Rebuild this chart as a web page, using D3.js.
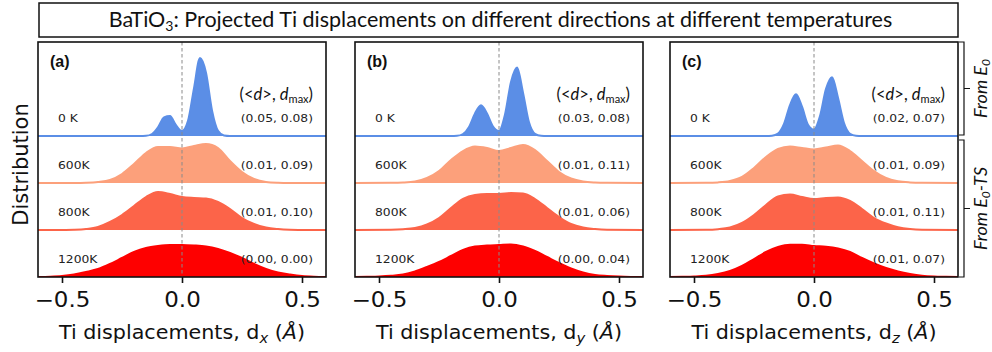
<!DOCTYPE html>
<html>
<head>
<meta charset="utf-8">
<script src="https://cdn.jsdelivr.net/npm/d3@7"></script>
<style>
  body { margin: 0; background: #fff; }
  svg { display: block; }
</style>
</head>
<body>
<svg id="chart" width="992" height="352"></svg>
<script>
// ---- data -------------------------------------------------------------
const panelLabels = ["(a)", "(b)", "(c)"];
const directions = ["x", "y", "z"];
const temperatures = ["0 K", "600K", "800K", "1200K"];
const xTicks = [-0.5, 0.0, 0.5];

// (<d>, d_max) per temperature, one array per direction
const statsX = [[0.05, 0.08], [0.01, 0.09], [0.01, 0.10], [0.00, 0.00]];
const statsY = [[0.03, 0.08], [0.01, 0.11], [0.01, 0.06], [0.00, 0.04]];
const statsZ = [[0.02, 0.07], [0.01, 0.09], [0.01, 0.11], [0.01, 0.07]];

// Projected displacement distributions: [displacement (Å), density (a.u.)]
const densX0 = [[-0.6,0],[-0.175,0],[-0.15,0.2],[-0.125,2.0],[-0.1,8.6],[-0.075,18.5],[-0.05,19.9],[-0.025,10.8],[0,5.0],[0.025,15.1],[0.05,47.9],[0.075,77.9],[0.1,63.3],[0.125,25.6],[0.15,5.2],[0.175,0.5],[0.2,0],[0.6,0]];
const densX600 = [[-0.6,0],[-0.45,0.1],[-0.4,0.3],[-0.35,1],[-0.3,3],[-0.25,9],[-0.2,19],[-0.15,30],[-0.1,36],[-0.05,36],[0,34.5],[0.05,37],[0.1,39],[0.15,35],[0.2,22],[0.25,11],[0.3,4],[0.35,1],[0.4,0.3],[0.45,0.1],[0.6,0]];
const densX800 = [[-0.6,0],[-0.5,0.1],[-0.45,0.3],[-0.4,1],[-0.35,3],[-0.3,8],[-0.25,15],[-0.2,24],[-0.15,33],[-0.1,38],[-0.05,36],[0,33],[0.05,32],[0.1,31.5],[0.15,28],[0.2,21],[0.25,12],[0.3,6],[0.35,2.5],[0.4,1],[0.45,0.3],[0.5,0.1],[0.6,0]];
const densX1200 = [[-0.6,0],[-0.55,0.3],[-0.5,1],[-0.45,2.5],[-0.4,5],[-0.35,8],[-0.3,13],[-0.25,19],[-0.2,25],[-0.15,29],[-0.1,31],[-0.05,32],[0,32],[0.05,31.5],[0.1,30.5],[0.15,28],[0.2,24],[0.25,19],[0.3,13],[0.35,8],[0.4,4.5],[0.45,2.5],[0.5,1],[0.55,0.3],[0.6,0]];

const densY0 = [[-0.6,0],[-0.2,0],[-0.175,0.2],[-0.15,2.0],[-0.125,9.1],[-0.1,22.6],[-0.075,30.7],[-0.05,22.6],[-0.025,9.5],[0,5.0],[0.025,21.5],[0.05,54],[0.075,68.4],[0.1,43.3],[0.125,13.6],[0.15,2.1],[0.175,0.2],[0.2,0],[0.6,0]];
const densY600 = [[-0.6,0],[-0.45,0.2],[-0.4,0.5],[-0.35,1.5],[-0.3,5],[-0.25,12],[-0.2,23],[-0.15,32],[-0.1,36.5],[-0.05,35],[0,32],[0.05,35],[0.1,38],[0.15,33],[0.2,22],[0.25,11],[0.3,4.5],[0.35,1.5],[0.4,0.5],[0.45,0.2],[0.6,0]];
const densY800 = [[-0.6,0],[-0.45,0.3],[-0.4,0.8],[-0.35,2],[-0.3,5.5],[-0.25,12],[-0.2,22],[-0.15,31],[-0.1,35],[-0.05,36],[0,36],[0.05,37],[0.1,36.5],[0.15,31],[0.2,22],[0.25,13],[0.3,6],[0.35,2.5],[0.4,1],[0.45,0.3],[0.6,0]];
const densY1200 = [[-0.6,0],[-0.55,0.2],[-0.5,0.5],[-0.45,1.2],[-0.4,2.5],[-0.35,5.5],[-0.3,10],[-0.25,15],[-0.2,21],[-0.15,27],[-0.1,30.5],[-0.05,31.5],[0,32],[0.05,32.5],[0.1,30.5],[0.15,26],[0.2,20],[0.25,14],[0.3,8.5],[0.35,4.5],[0.4,2],[0.45,1],[0.5,0.4],[0.55,0.1],[0.6,0]];

const densZ0 = [[-0.6,0],[-0.2,0],[-0.175,0.25],[-0.15,2.4],[-0.125,12.0],[-0.1,30.9],[-0.075,41.7],[-0.05,29.3],[-0.025,11.3],[0,6.4],[0.025,19.9],[0.05,47.1],[0.075,58.8],[0.1,38.3],[0.125,13.0],[0.15,2.3],[0.175,0.2],[0.2,0],[0.6,0]];
const densZ600 = [[-0.6,0],[-0.45,0.2],[-0.4,0.6],[-0.35,2],[-0.3,6],[-0.25,15],[-0.2,26],[-0.15,34],[-0.1,36.5],[-0.05,35],[0,33.5],[0.05,35.5],[0.1,37.5],[0.15,32],[0.2,22],[0.25,12],[0.3,5],[0.35,1.8],[0.4,0.6],[0.45,0.2],[0.6,0]];
const densZ800 = [[-0.6,0],[-0.45,0.2],[-0.4,0.8],[-0.35,2.5],[-0.3,7],[-0.25,15],[-0.2,25],[-0.15,33.5],[-0.1,35.5],[-0.05,33],[0,31],[0.05,32],[0.1,32.5],[0.15,29],[0.2,21],[0.25,12],[0.3,6.5],[0.35,2.8],[0.4,1],[0.45,0.3],[0.6,0]];
const densZ1200 = [[-0.6,0],[-0.55,0.2],[-0.5,0.5],[-0.45,1.2],[-0.4,3],[-0.35,6],[-0.3,11],[-0.25,18],[-0.2,25],[-0.15,30],[-0.1,32.3],[-0.05,32.3],[0,31],[0.05,30.3],[0.1,28.5],[0.15,25],[0.2,19],[0.25,13.5],[0.3,9],[0.35,5.5],[0.4,3],[0.45,1.3],[0.5,0.5],[0.55,0.2],[0.6,0]];

const densities = [
  [densX0, densX600, densX800, densX1200],
  [densY0, densY600, densY800, densY1200],
  [densZ0, densZ600, densZ800, densZ1200]
];
const stats = [statsX, statsY, statsZ];

// ---- layout -----------------------------------------------------------
const svg = d3.select("#chart");
const rowColors = ["#5b8ee6", "#fca07b", "#fc6449", "#fe0000"];
const panelLefts = [38, 355, 670];
const panelW = 288;
const plotTop = 42, plotBottom = 277;
const heightRatios = [2, 1, 1, 1];
const unit = (plotBottom - plotTop) / d3.sum(heightRatios);
const rowBase = heightRatios.map((_, i) => plotTop + unit * d3.sum(heightRatios.slice(0, i + 1)));
const SX = 1.12;            // horizontal stretch of the figure's text
const mplFont = "'DejaVu Sans', sans-serif";
const slideFont = "Lato, 'Open Sans', sans-serif";
const fmt2 = d3.format(".2f");

// density -> pixel height (shared by every row)
const yScale = d3.scaleLinear().domain([0, 47]).range([0, unit]);

const defs = svg.append("defs");

panelLabels.forEach((label, p) => {
  const left = panelLefts[p];
  const x = d3.scaleLinear().domain([-0.6, 0.6]).range([left, left + panelW]);
  const g = svg.append("g");

  defs.append("clipPath").attr("id", "clip" + p)
    .append("rect").attr("x", left).attr("y", plotTop)
    .attr("width", panelW).attr("height", plotBottom - plotTop);

  const plot = g.append("g").attr("clip-path", `url(#clip${p})`);

  densities[p].forEach((series, r) => {
    const base = rowBase[r];
    const area = d3.area()
      .x(d => x(d[0]))
      .y0(base)
      .y1(d => base - yScale(d[1]))
      .curve(d3.curveMonotoneX);
    const line = d3.line()
      .x(d => x(d[0]))
      .y(d => base - yScale(d[1]))
      .curve(d3.curveMonotoneX);
    plot.append("path").datum(series).attr("d", area).attr("fill", rowColors[r]);
    plot.append("path").datum(series).attr("d", line)
      .attr("fill", "none").attr("stroke", rowColors[r]).attr("stroke-width", 2);

    // temperature label
    g.append("text")
      .attr("transform", `translate(${left + 20},${base - 14}) scale(${SX},1)`)
      .attr("font-family", mplFont).attr("font-size", 11).attr("fill", "#222")
      .text(temperatures[r]);
    // (<d>, d_max) values
    const s = stats[p][r];
    g.append("text")
      .attr("transform", `translate(${left + panelW - 13},${base - 14}) scale(${SX},1)`)
      .attr("text-anchor", "end")
      .attr("font-family", mplFont).attr("font-size", 11).attr("fill", "#222")
      .text(`(${fmt2(s[0])}, ${fmt2(s[1])})`);
  });

  // zero reference line
  g.append("line")
    .attr("x1", x(0)).attr("x2", x(0)).attr("y1", plotTop).attr("y2", plotBottom)
    .attr("stroke", "#8a8a8a").attr("stroke-width", 1).attr("stroke-dasharray", "3.5,2.5");

  // frame
  g.append("rect").attr("x", left).attr("y", plotTop)
    .attr("width", panelW).attr("height", plotBottom - plotTop)
    .attr("fill", "none").attr("stroke", "#111").attr("stroke-width", 1.6);

  // header of the value column
  const hdr = g.append("text")
    .attr("transform", `translate(${left + panelW - 13},${rowBase[0] - 36})`)
    .attr("text-anchor", "end")
    .attr("font-family", slideFont).attr("font-size", 16.5).attr("fill", "#111");
  hdr.append("tspan").text("(<");
  hdr.append("tspan").attr("font-style", "italic").text("d");
  hdr.append("tspan").text(">, ");
  hdr.append("tspan").attr("font-style", "italic").text("d");
  hdr.append("tspan").attr("font-size", 11).attr("dy", 3).text("max");
  hdr.append("tspan").attr("dy", -3).text(")");

  // panel letter
  g.append("text")
    .attr("x", left + 12).attr("y", plotTop + 25)
    .attr("font-family", "'Liberation Sans', Arial, sans-serif")
    .attr("font-weight", "bold").attr("font-size", 16).attr("fill", "#111")
    .text(label);

  // x axis
  const axis = d3.axisBottom(x).tickValues(xTicks).tickSize(6)
    .tickFormat(d3.format(".1f"));
  const ax = g.append("g").attr("transform", `translate(0,${plotBottom})`).call(axis);
  ax.select(".domain").remove();
  ax.selectAll(".tick line").attr("stroke", "#111").attr("stroke-width", 1.6);
  ax.selectAll(".tick text")
    .attr("y", 30).attr("dy", null)
    .attr("transform", `scale(${SX},1)`)
    .attr("font-family", mplFont).attr("font-size", 20.5).attr("fill", "#111");

  // x label
  const xl = g.append("text")
    .attr("transform", `translate(${left + panelW / 2},${plotBottom + 62}) scale(1.06,1)`)
    .attr("text-anchor", "middle")
    .attr("font-family", mplFont).attr("font-size", 19.5).attr("fill", "#111");
  xl.append("tspan").text("Ti displacements, d");
  xl.append("tspan").attr("font-style", "italic").attr("font-size", 14).attr("dy", 4).text(directions[p]);
  xl.append("tspan").attr("dy", -4).text(" (");
  xl.append("tspan").attr("font-style", "italic").text("Å");
  xl.append("tspan").text(")");
});

// y label
svg.append("text")
  .attr("transform", `translate(28,${(plotTop + plotBottom) / 2 + 5}) rotate(-90)`)
  .attr("text-anchor", "middle")
  .attr("font-family", mplFont).attr("font-size", 21).attr("fill", "#111")
  .text("Distribution");

// title box
const boxL = panelLefts[0] + 1, boxR = panelLefts[2] + panelW;
svg.append("rect").attr("x", boxL).attr("y", 3).attr("width", boxR - boxL).attr("height", 34)
  .attr("fill", "#fff").attr("stroke", "#111").attr("stroke-width", 1.5);
const title = svg.append("text")
  .attr("x", (boxL + boxR) / 2 + 2).attr("y", 27)
  .attr("text-anchor", "middle")
  .attr("font-family", slideFont).attr("font-size", 21.5).attr("fill", "#111");
title.append("tspan").text("BaTiO");
title.append("tspan").attr("font-size", 14).attr("dy", 4).text("3");
title.append("tspan").attr("dy", -4).text(": Projected Ti displacements on different directions at different temperatures");

// right-hand brackets grouping the rows
const brackets = [
  { y0: plotTop, y1: rowBase[0] - 1, text: "From E", sub: "0", tail: "" },
  { y0: rowBase[0] + 4, y1: plotBottom, text: "From E", sub: "0", tail: "-TS" }
];
const bx = boxR + 6;
brackets.forEach(b => {
  const mid = (b.y0 + b.y1) / 2;
  svg.append("path")
    .attr("d", `M${bx - 5},${b.y0}H${bx}V${b.y1}H${bx - 5}M${bx},${mid}H${bx + 6}`)
    .attr("fill", "none").attr("stroke", "#111").attr("stroke-width", 1.2);
  const t = svg.append("text")
    .attr("transform", `translate(${bx + 23},${mid}) rotate(-90)`)
    .attr("text-anchor", "middle")
    .attr("font-family", slideFont).attr("font-style", "italic")
    .attr("font-size", 18).attr("fill", "#111");
  t.append("tspan").text(b.text);
  t.append("tspan").attr("font-size", 12).attr("dy", 3).text(b.sub);
  if (b.tail) t.append("tspan").attr("dy", -3).text(b.tail);
});
</script>
</body>
</html>
